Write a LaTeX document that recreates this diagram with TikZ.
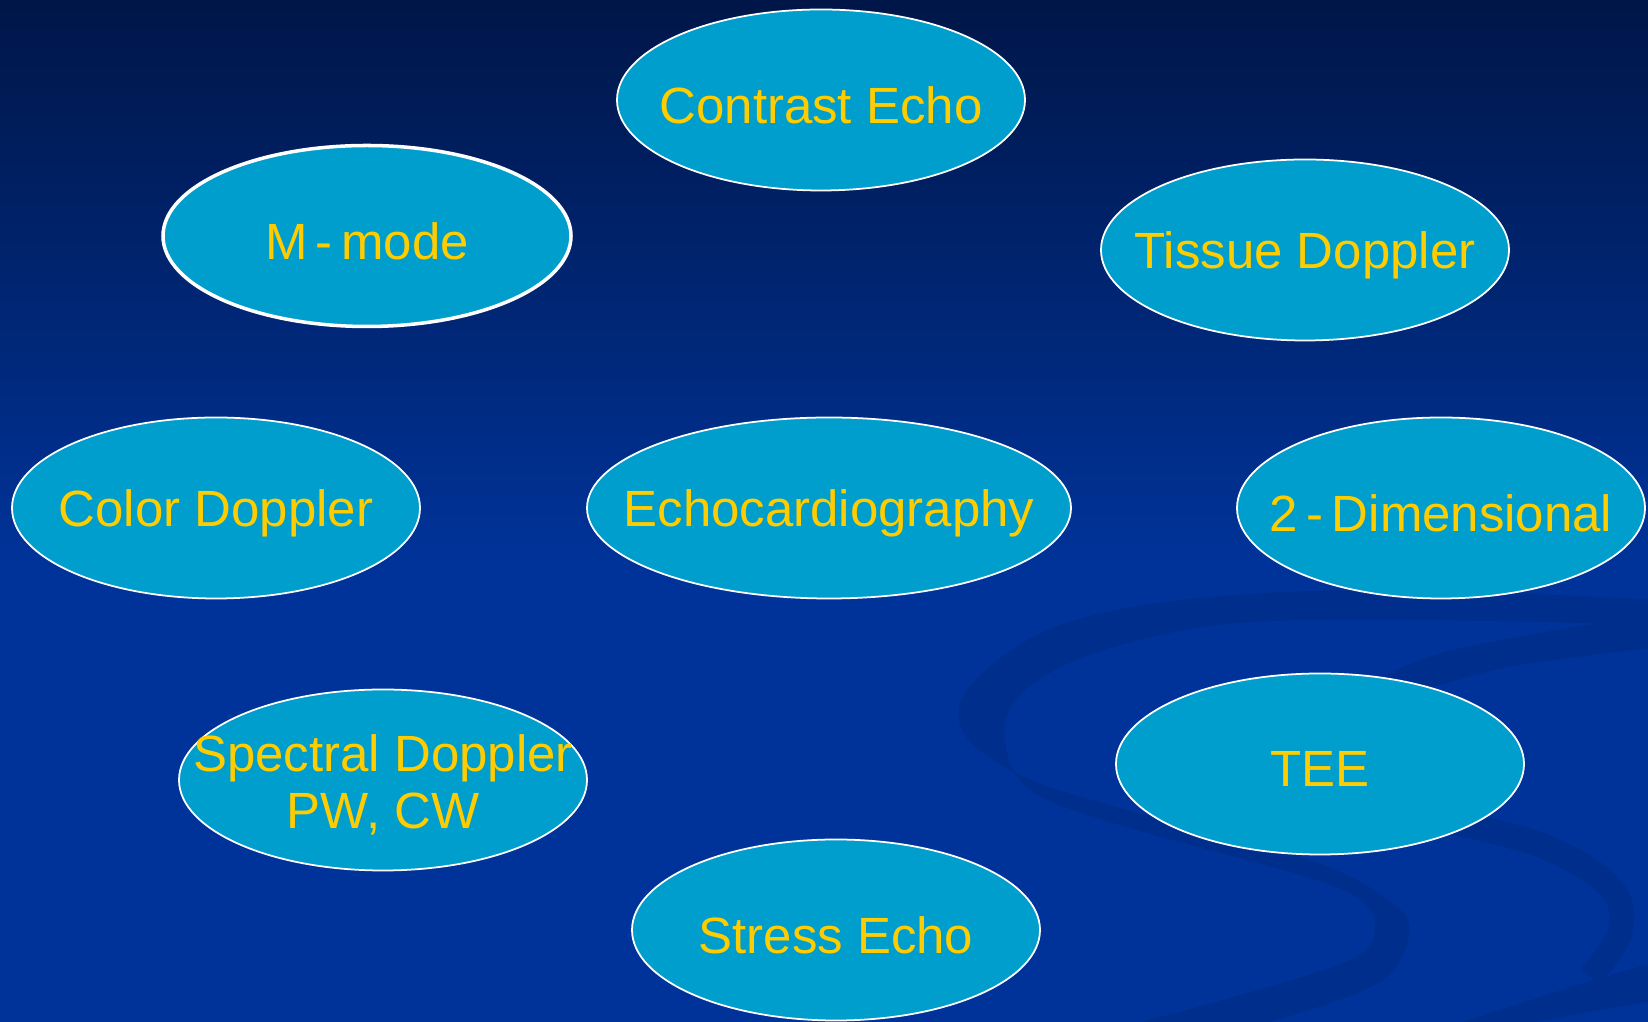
\documentclass[tikz,border=0pt]{standalone}
\usepackage{fontspec}
\setmainfont{Liberation Sans}
\usetikzlibrary{shapes.geometric}
\definecolor{skytop}{RGB}{0,22,72}
\definecolor{slideblue}{RGB}{0,51,153}
\definecolor{swoosh}{RGB}{0,46,140}
\definecolor{bubblefill}{RGB}{0,158,204}
\definecolor{labelgold}{RGB}{255,204,0}
\tikzset{
	mymap/.style = {
		font=\fontsize{14.5}{16.3}\selectfont,
	},
	bubble/.style = {
		ellipse, draw=white, line width=0.5pt, fill=bubblefill,
		minimum width=4.08cm, minimum height=1.81cm, inner sep=0pt,
		label={[bubbletext]center:#1},
	},
	bubbletext/.style = {text=labelgold, align=center, inner sep=0pt, yshift=-0.05cm},
	widebubble/.style = {bubble=#1, minimum width=4.84cm},
}

\begin{document}
\begin{tikzpicture}[mymap]
		\useasboundingbox (0,0) rectangle (16.48,10.22);
		% background
		\fill[slideblue] (0,0) rectangle (16.48,10.22);
		\shade[top color=skytop, bottom color=slideblue] (0,4.6) rectangle (16.48,10.22);
		\fill[swoosh] plot[smooth, tension=0.6] coordinates
			{(16.6,4.22) (14.0,4.32) (12.0,4.24) (10.6,3.97) (9.75,3.42) (9.62,2.92) (10.2,2.47) (11.2,2.14) (13.1,1.62) (13.95,1.17) (14.08,0.82) (13.75,0.37) (12.6,-0.03)}
			-- plot[smooth, tension=0.6] coordinates
			{(11.3,-0.03) (12.4,0.27) (13.5,0.62) (13.75,0.92) (13.6,1.22) (13.0,1.47) (11.2,1.97) (10.3,2.32) (10.05,2.82) (10.2,3.27) (10.9,3.67) (12.2,3.97) (14.0,4.02) (16.6,3.97)}
			-- cycle;
		\fill[swoosh] plot[smooth, tension=0.6] coordinates
			{(16.6,4.09) (15.0,3.82) (14.2,3.62) (13.6,3.32)}
			-- plot[smooth, tension=0.6] coordinates
			{(13.6,3.12) (14.4,3.37) (15.2,3.57) (16.6,3.75)} -- cycle;
		\draw[swoosh, line width=0.25cm] plot[smooth, tension=0.6] coordinates
			{(14.2,2.07) (15.4,1.77) (16.1,1.35) (16.2,0.9) (15.9,0.45)};
		\fill[swoosh] (14.6,-0.01) .. controls (15.4,0.25) and (16.0,0.45) .. (16.49,0.58)
			-- (16.49,0.2) .. controls (16.0,0.12) and (15.6,0.05) .. (15.3,-0.01) -- cycle;

		% bubbles
		\node[widebubble=Echocardiography] (echo) at (8.29,5.14) {};
		\node[bubble=Contrast Echo] (contrast) at (8.21,9.22) {};
		\node[bubble={M\,-\,mode}, line width=1pt] (mmode) at (3.67,7.86) {};
		\node[bubble=Tissue Doppler] (tissue) at (13.05,7.72) {};
		\node[bubble=Color Doppler] (color) at (2.16,5.14) {};
		\node[bubble={2\,-\,Dimensional}] (twod) at (14.41,5.14) {};
		\node[bubble={Spectral Doppler\\PW, CW}] (spectral) at (3.83,2.42) {};
		\node[bubble=TEE] (tee) at (13.20,2.58) {};
		\node[bubble=Stress Echo] (stress) at (8.36,0.92) {};
	\end{tikzpicture}
\end{document}
